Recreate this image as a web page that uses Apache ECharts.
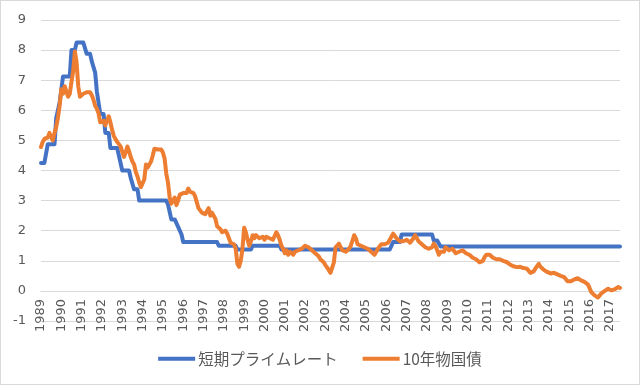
<!DOCTYPE html>
<html>
<head>
<meta charset="utf-8">
<script src="https://cdn.jsdelivr.net/npm/echarts@6/dist/echarts.min.js"></script>
<style>
  html, body { margin: 0; padding: 0; background: #fff; }
  #chart { position: absolute; left: 0; top: 0; width: 640px; height: 385px; }
  #frame { position: absolute; left: 0; top: 0; width: 638px; height: 383px; border: 1px solid #d9d9d9; pointer-events: none; }
</style>
</head>
<body>
<div id="chart"></div>
<div id="frame"></div>
<script>
// Year tick labels (one label per January)
const yearLabels = [1989,1990,1991,1992,1993,1994,1995,1996,1997,1998,1999,2000,2001,2002,2003,
  2004,2005,2006,2007,2008,2009,2010,2011,2012,2013,2014,2015,2016,2017];

const seriesNames = ['短期プライムレート', '10年物国債'];

// 短期プライムレート (monthly, 1989-01 .. 2017-07)
const shortPrime = [
  4.25,4.25,4.25,4.25,4.875,4.875,4.875,4.875,4.875,5.75,5.75,6.25,      // 1989
  6.25,7.125,7.125,7.125,7.125,7.125,8.0,8.0,8.0,8.25,8.25,8.25,         // 1990
  8.25,8.25,8.25,7.875,7.875,7.875,7.625,7.625,7.25,6.625,6.25,5.875,    // 1991
  5.875,5.875,5.25,5.25,5.25,4.75,4.75,4.75,4.75,4.75,4.5,4.5,           // 1992
  4.0,4.0,4.0,4.0,4.0,3.75,3.75,3.375,3.375,3.375,3.0,3.0,               // 1993
  3.0,3.0,3.0,3.0,3.0,3.0,3.0,3.0,3.0,3.0,3.0,3.0,                       // 1994
  3.0,3.0,3.0,2.875,2.875,2.375,2.375,2.375,2.375,2.125,2.125,1.875,     // 1995
  1.625,1.625,1.625,1.625,1.625,1.625,1.625,1.625,1.625,1.625,1.625,1.625, // 1996
  1.625,1.625,1.625,1.625,1.625,1.625,1.625,1.625,1.625,1.5,1.5,1.5,     // 1997
  1.5,1.5,1.5,1.5,1.5,1.5,1.5,1.5,1.375,1.375,1.375,1.375,               // 1998
  1.375,1.375,1.375,1.375,1.375,1.5,1.5,1.5,1.5,1.5,1.5,1.5,             // 1999
  1.5,1.5,1.5,1.5,1.5,1.5,1.5,1.5,1.5,1.5,1.375,1.375,                   // 2000
  1.375,1.375,1.375,1.375,1.375,1.375,1.375,1.375,1.375,1.375,1.375,1.375, // 2001
  1.375,1.375,1.375,1.375,1.375,1.375,1.375,1.375,1.375,1.375,1.375,1.375, // 2002
  1.375,1.375,1.375,1.375,1.375,1.375,1.375,1.375,1.375,1.375,1.375,1.375, // 2003
  1.375,1.375,1.375,1.375,1.375,1.375,1.375,1.375,1.375,1.375,1.375,1.375, // 2004
  1.375,1.375,1.375,1.375,1.375,1.375,1.375,1.375,1.375,1.375,1.375,1.375, // 2005
  1.375,1.375,1.375,1.375,1.625,1.625,1.625,1.625,1.625,1.875,1.875,1.875, // 2006
  1.875,1.875,1.875,1.875,1.875,1.875,1.875,1.875,1.875,1.875,1.875,1.875, // 2007
  1.875,1.875,1.875,1.875,1.675,1.675,1.675,1.675,1.475,1.475,1.475,1.475, // 2008
  1.475,1.475,1.475,1.475,1.475,1.475,1.475,1.475,1.475,1.475,1.475,1.475, // 2009
  1.475,1.475,1.475,1.475,1.475,1.475,1.475,1.475,1.475,1.475,1.475,1.475, // 2010
  1.475,1.475,1.475,1.475,1.475,1.475,1.475,1.475,1.475,1.475,1.475,1.475, // 2011
  1.475,1.475,1.475,1.475,1.475,1.475,1.475,1.475,1.475,1.475,1.475,1.475, // 2012
  1.475,1.475,1.475,1.475,1.475,1.475,1.475,1.475,1.475,1.475,1.475,1.475, // 2013
  1.475,1.475,1.475,1.475,1.475,1.475,1.475,1.475,1.475,1.475,1.475,1.475, // 2014
  1.475,1.475,1.475,1.475,1.475,1.475,1.475,1.475,1.475,1.475,1.475,1.475, // 2015
  1.475,1.475,1.475,1.475,1.475,1.475,1.475,1.475,1.475,1.475,1.475,1.475, // 2016
  1.475,1.475,1.475,1.475,1.475,1.475,1.475                               // 2017
];

// 10年物国債 (monthly, 1989-01 .. 2017-07)
const jgb10y = [
  4.78,4.95,5.05,5.0,5.1,5.25,5.1,5.0,5.25,5.45,5.75,6.15,   // 1989
  6.7,6.55,6.8,6.85,6.45,6.55,6.95,7.3,7.95,7.6,6.8,6.45,    // 1990
  6.5,6.55,6.55,6.6,6.65,6.6,6.5,6.35,6.15,6.05,5.9,5.6,     // 1991
  5.55,5.65,5.5,5.5,5.8,5.6,5.35,5.15,5.05,4.95,4.9,4.8,     // 1992
  4.75,4.45,4.6,4.8,4.65,4.45,4.3,4.2,3.95,3.8,3.6,3.45,     // 1993
  3.5,3.7,4.2,4.1,4.05,4.3,4.5,4.72,4.7,4.7,4.65,4.7,        // 1994
  4.6,4.4,3.9,3.6,3.1,2.9,2.95,3.1,2.85,3.0,3.2,3.2,         // 1995
  3.25,3.3,3.25,3.4,3.3,3.35,3.25,3.15,2.95,2.75,2.7,2.6,    // 1996
  2.6,2.55,2.55,2.75,2.5,2.6,2.65,2.4,2.15,2.1,2.05,1.95,    // 1997
  1.9,2.0,1.9,1.75,1.6,1.65,1.55,1.4,0.9,0.8,1.0,1.4,        // 1998
  2.1,1.95,1.7,1.5,1.65,1.85,1.75,1.85,1.8,1.75,1.8,1.8,     // 1999
  1.7,1.8,1.75,1.75,1.8,1.7,1.75,1.95,1.85,1.7,1.5,1.4,      // 2000
  1.25,1.35,1.2,1.3,1.25,1.2,1.3,1.3,1.35,1.35,1.4,1.4,      // 2001
  1.5,1.55,1.45,1.4,1.35,1.3,1.25,1.2,1.15,1.05,1.0,0.95,    // 2002
  0.85,0.78,0.72,0.6,0.55,0.95,1.45,1.4,1.57,1.45,1.35,1.35, // 2003
  1.3,1.3,1.4,1.5,1.55,1.85,1.75,1.55,1.5,1.5,1.45,1.45,     // 2004
  1.4,1.4,1.35,1.3,1.25,1.2,1.25,1.4,1.45,1.55,1.55,1.55,    // 2005
  1.5,1.6,1.7,1.8,1.9,1.85,1.75,1.7,1.65,1.7,1.65,1.65,      // 2006
  1.7,1.65,1.6,1.65,1.75,1.85,1.8,1.65,1.6,1.55,1.5,1.45,    // 2007
  1.45,1.4,1.35,1.45,1.57,1.5,1.35,1.2,1.3,1.35,1.3,1.45,    // 2008
  1.4,1.35,1.4,1.4,1.35,1.25,1.3,1.3,1.3,1.35,1.3,1.25,      // 2009
  1.25,1.2,1.15,1.1,1.07,1.05,1.0,0.95,0.9,1.0,1.12,1.2,     // 2010
  1.22,1.2,1.15,1.1,1.07,1.05,1.07,1.05,1.0,1.0,0.97,0.96,   // 2011
  0.93,0.88,0.85,0.82,0.8,0.79,0.78,0.8,0.79,0.76,0.74,0.74, // 2012
  0.7,0.6,0.55,0.65,0.74,0.82,0.9,0.8,0.74,0.7,0.68,0.63,    // 2013
  0.62,0.58,0.6,0.6,0.57,0.55,0.52,0.5,0.48,0.46,0.4,0.32,   // 2014
  0.28,0.32,0.35,0.38,0.4,0.42,0.38,0.35,0.33,0.3,0.29,0.22, // 2015
  0.1,-0.04,-0.1,-0.15,-0.2,-0.22,-0.15,-0.08,-0.04,0.0,0.03,0.07, // 2016
  0.05,0.02,0.07,0.06,0.1,0.13,0.1                           // 2017
];

// Monthly categories built from the year labels
const categories = [];
for (let i = 0; i < jgb10y.length; i++) {
  const y = yearLabels[Math.floor(i / 12)];
  const m = (i % 12) + 1;
  categories.push(y + '/' + (m < 10 ? '0' + m : m));
}

const yMin = -1, yMax = 9;
const gridTop = 20, gridBottom = 64, chartH = 385;
const plotH = chartH - gridTop - gridBottom;
// the category axis crosses the value axis at 0 (as in the original chart)
const zeroOffset = -plotH * (0 - yMin) / (yMax - yMin);

const chart = echarts.init(document.getElementById('chart'), null, { renderer: 'canvas' });
const labelColor = '#595959';
chart.setOption({
  animation: false,
  backgroundColor: '#ffffff',
  grid: { left: 41, right: 20, top: gridTop, bottom: gridBottom, containLabel: false },
  legend: {
    data: seriesNames,
    left: 'center',
    top: 346,
    icon: 'rect',
    itemWidth: 37,
    itemHeight: 4,
    itemGap: 25,
    textStyle: { color: labelColor, fontSize: 15.5, fontFamily: '"Noto Sans CJK JP", sans-serif', padding: [0, 0, 0, -2] }
  },
  xAxis: {
    type: 'category',
    data: categories,
    boundaryGap: false,
    offset: zeroOffset,
    axisLine: { onZero: false, lineStyle: { color: '#d9d9d9', width: 1 } },
    axisTick: { show: false },
    splitLine: { show: false },
    axisLabel: {
      rotate: 90,
      margin: 8,
      color: labelColor,
      fontSize: 13,
      fontFamily: '"DejaVu Sans", sans-serif',
      interval: function (idx, val) { return val.slice(5) === '01'; },
      formatter: function (val) { return val.slice(0, 4); }
    }
  },
  yAxis: {
    type: 'value',
    min: yMin,
    max: yMax,
    interval: 1,
    axisLine: { show: false },
    axisTick: { show: false },
    splitLine: { lineStyle: { color: '#d9d9d9', width: 1 } },
    axisLabel: { color: labelColor, fontSize: 13, margin: 15, fontFamily: '"DejaVu Sans", sans-serif' }
  },
  series: [
    {
      name: seriesNames[0],
      type: 'line',
      data: shortPrime,
      symbol: 'none',
      lineStyle: { color: '#4472C4', width: 4, join: 'round', cap: 'round' },
      itemStyle: { color: '#4472C4' }
    },
    {
      name: seriesNames[1],
      type: 'line',
      data: jgb10y,
      symbol: 'none',
      lineStyle: { color: '#ED7D31', width: 4, join: 'round', cap: 'round' },
      itemStyle: { color: '#ED7D31' }
    }
  ]
});
</script>
</body>
</html>
